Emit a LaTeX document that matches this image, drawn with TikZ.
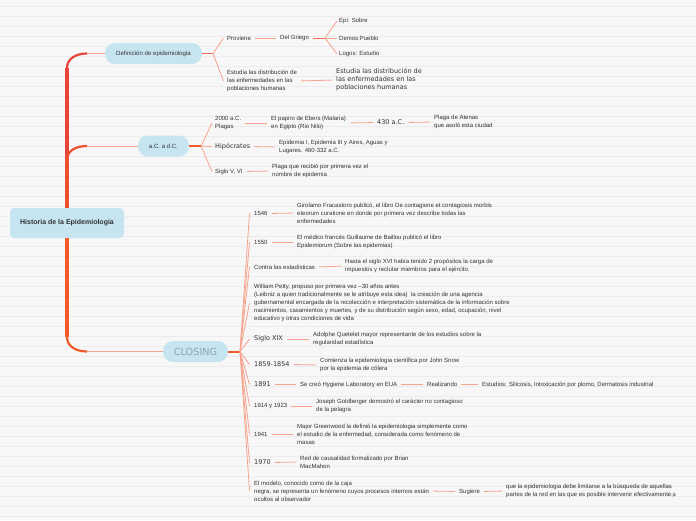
\documentclass[tikz,border=0pt]{standalone}
\usepackage{fontspec}
\setmainfont{Liberation Sans}
\newfontfamily\bigfont{DejaVu Sans}
\usetikzlibrary{positioning}

\definecolor{bgpaper}{HTML}{F7F7F7}
\definecolor{paperline}{HTML}{ECECEC}
\definecolor{topicblue}{HTML}{C6E5F1}
\definecolor{trunkred}{HTML}{E9443A}
\definecolor{trunkmid}{HTML}{EC5232}
\definecolor{trunkorange}{HTML}{F05A28}
\definecolor{stemred}{HTML}{EF6A5A}
\definecolor{twig}{HTML}{F6A48E}
\definecolor{inkgray}{HTML}{333333}
\definecolor{closegray}{HTML}{8FA3AD}

\begin{document}
\begin{tikzpicture}[
  x=1pt, y=-1pt,
  root/.style={rectangle, fill=topicblue, rounded corners=4pt, minimum width=114pt,
               minimum height=30pt, font=\fontsize{7}{8}\selectfont\bfseries, text=inkgray},
  topic/.style={rectangle, fill=topicblue, rounded corners=10pt, minimum height=21pt,
                inner sep=0pt, font=\fontsize{6.1}{7}\selectfont, text=inkgray},
  leaf/.style={anchor=west, inner sep=0pt, align=left, font=\fontsize{6}{8}\selectfont, text=inkgray},
  bigleaf/.style={leaf, font=\bigfont\fontsize{6.5}{8}\selectfont},
  limb/.style={line width=4.5pt},
  curlimb/.style={line width=2.2pt},
  stem/.style={draw=stemred, line width=1pt},
  twigline/.style={draw=twig, line width=0.8pt, shorten <=4pt, shorten >=4pt},
  fanline/.style={draw=twig, line width=0.8pt}
]
\useasboundingbox (0,0) rectangle (696,520);
\fill[bgpaper] (0,0) rectangle (696,520);
\foreach \y in {6.5,16.5,...,516.5}
  \draw[paperline, line width=0.5pt] (0,\y) -- (696,\y);

% central topic and main branches
\node[root] (hist) at (67,223) {Historia de la Epidemiologia};
\node[topic, minimum width=97pt] (defi) at (153.5,53.5) {Definición de epidemiologia};
\node[topic, minimum width=51pt] (acdc) at (163.5,146) {a.C. a d.C.};
\node[topic, minimum width=65pt, font=\bigfont\fontsize{9.7}{10}\selectfont, text=closegray] (closing) at (195.5,351.5) {CLOSING};

\coordinate (defbend) at (67,68);
\coordinate (defknee) at (87,53.5);
\coordinate (acbend) at (67,160);
\coordinate (acknee) at (87,146);
\coordinate (clbend) at (67,337);
\coordinate (clknee) at (87,351.5);

\draw[limb, trunkred] (hist.north) -- (defbend);
\draw[curlimb, trunkred] (defbend) .. controls +(0,-10) and +(-10,0) .. (defknee);
\draw[fanline] (defknee) -- (defi.west);
\draw[limb, trunkmid] (hist.north) -- (acbend);
\draw[curlimb, trunkmid] (acbend) .. controls +(0,-10) and +(-10,0) .. (acknee);
\draw[fanline] (acknee) -- (acdc.west);
\draw[limb, trunkorange] (hist.south) -- (clbend);
\draw[curlimb, trunkorange] (clbend) .. controls +(0,10) and +(-10,0) .. (clknee);
\draw[fanline] (clknee) -- (closing.west);

% definicion
\coordinate (defjoin) at (213,53.5);
\node[leaf] (proviene) at (227,38) {Proviene};
\node[leaf] (griego) at (280,38) {Del Griego};
\coordinate (grjoin) at (325,38);
\node[leaf] (epi) at (339,21) {Epi: Sobre};
\node[leaf] (demos) at (339,38) {Demos:Pueblo};
\node[leaf] (logos) at (339,54) {Logos: Estudio};
\node[leaf] (estudia) at (227,81) {Estudia las distribución de\\las enfermedades en las\\poblaciones humanas};
\node[bigleaf] (estudiabig) at (336,80) {Estudia las distribución de\\las enfermedades en las\\poblaciones humanas};

\draw[stem] (defi.east) -- (defjoin);
\draw[fanline] (defjoin) -- ([xshift=-3.5pt]proviene.west);
\draw[fanline] (defjoin) -- ([xshift=-3.5pt]estudia.west);
\draw[twigline] (proviene.east) -- (griego.west);
\draw[stem, shorten <=4pt] (griego.east) -- (grjoin);
\draw[fanline] (grjoin) -- ([xshift=-2pt]epi.west);
\draw[fanline] (grjoin) -- ([xshift=-2pt]demos.west);
\draw[fanline] (grjoin) -- ([xshift=-2pt]logos.west);
\draw[twigline] (estudia.east) -- (estudiabig.west);

% a.C. a d.C.
\coordinate (acjoin) at (201,146);
\node[leaf] (plagas) at (215,123) {2000 a.C.\\Plagas};
\node[leaf] (papiro) at (271,123) {El papiro de Ebers (Malaria)\\en Egipto (Rio Nilo)};
\node[bigleaf] (anio430) at (377,122.5) {430 a.C.};
\node[leaf] (atenas) at (434,122) {Plaga de Atenas\\que asoló esta ciudad};
\node[bigleaf] (hipo) at (215,146.5) {Hipócrates};
\node[leaf] (epidemias) at (279,147) {Epidemia I, Epidemia III y Aires, Aguas y\\Lugares. 460-332 a.C.};
\node[leaf] (siglovi) at (215,171.5) {Siglo V, VI};
\node[leaf] (nombre) at (272,171) {Plaga que recibió por primera vez el\\nombre de epidemia};

\draw[stem, draw=trunkorange, line width=1.2pt] (acdc.east) -- (acjoin);
\draw[fanline] (acjoin) -- ([xshift=-3pt]plagas.west);
\draw[fanline] (acjoin) -- ([xshift=-3pt]hipo.west);
\draw[fanline] (acjoin) -- ([xshift=-3pt]siglovi.west);
\draw[twigline] (plagas.east) -- (papiro.west);
\draw[twigline] (papiro.east) -- (anio430.west);
\draw[twigline] (anio430.east) -- (atenas.west);
\draw[twigline] (hipo.east) -- (epidemias.west);
\draw[twigline] (siglovi.east) -- (nombre.west);

% closing
\coordinate (cljoin) at (240,351.5);
\node[leaf] (y1546) at (254,213.5) {1546};
\node[leaf] (fracastoro) at (297,213) {Girolamo Fracastoro publicó, el libro De contagione et contagiosis morbis\\eteorum curatione en donde por primera vez describe todas las\\enfermedades};
\node[leaf] (y1550) at (254,242) {1550};
\node[leaf] (baillou) at (297,242) {El médico francés Guillaume de Baillou publicó el libro\\Epidemiorum (Sobre las epidemias)};
\node[leaf] (contra) at (254,267) {Contra las estadísticas};
\node[leaf] (propositos) at (345,266) {Hasta el siglo XVI había tenido 2 propósitos la carga de\\impuestos y reclutar miembros para el ejército.};
\node[leaf] (petty) at (254,303) {William Petty, propuso por primera vez –30 años antes\\(Leibniz a quien tradicionalmente se le atribuye esta idea)\ \ la creación de una agencia\\gubernamental encargada de la recolección e interpretación sistemática de la información sobre\\nacimientos, casamientos y muertes, y de su distribución según sexo, edad, ocupación, nivel\\educativo y otras condiciones de vida};
\node[bigleaf] (sxix) at (254,339) {Siglo XIX};
\node[leaf] (quetelet) at (313,339) {Adolphe Quetelet mayor representante de los estudios sobre la\\regularidad estadística};
\node[bigleaf] (snowyears) at (254,364.5) {1859-1854};
\node[leaf] (snow) at (320,365) {Comienza la epidemiologia científica por John Snow\\por la epidemia de cólera};
\node[bigleaf] (y1891) at (254,384.5) {1891};
\node[leaf] (hygiene) at (300,384.5) {Se creó Hygiene Laboratory en EUA};
\node[leaf] (realizando) at (427,384.5) {Realizando};
\node[leaf] (estudios) at (482,384.5) {Estudios: Silicosis, Intoxicación por plomo, Dermatosis industrial};
\node[leaf] (y1914) at (254,406) {1914 y 1923};
\node[leaf] (goldberger) at (316,406) {Joseph Goldberger demostró el carácter no contagioso\\de la pelagra};
\node[leaf] (y1941) at (254,434) {1941};
\node[leaf] (greenwood) at (297,434) {Major Greenwood la definió la epidemiologia simplemente como\\el estudio de la enfermedad, considerada como fenómeno de\\masas};
\node[bigleaf] (y1970) at (254,462.5) {1970};
\node[leaf] (macmahon) at (300,462) {Red de causalidad formalizado por Brian\\MacMahon};
\node[leaf] (modelo) at (254,491) {El modelo, conocido como de la caja\\negra, se representa un fenómeno cuyos procesos internos están\\ocultos al observador};
\node[leaf] (sugiere) at (459,491.5) {Sugiere};
\node[leaf] (limitarse) at (506,491) {que la epidemiologia debe limitarse a la búsqueda de aquellas\\partes de la red en las que es posible intervenir efectivamente,s};

\draw[stem, draw=trunkorange, line width=2pt] (closing.east) -- (cljoin);
\foreach \kid in {y1546,y1550,contra,petty,sxix,snowyears,y1891,y1914,y1941,y1970,modelo}
  \draw[fanline] (cljoin) -- ([xshift=-4.5pt]\kid.west);
\draw[twigline] (y1546.east) -- (fracastoro.west);
\draw[twigline] (y1550.east) -- (baillou.west);
\draw[twigline] (contra.east) -- (propositos.west);
\draw[twigline] (sxix.east) -- (quetelet.west);
\draw[twigline] (snowyears.east) -- (snow.west);
\draw[twigline] (y1891.east) -- (hygiene.west);
\draw[twigline] (hygiene.east) -- (realizando.west);
\draw[twigline] (realizando.east) -- (estudios.west);
\draw[twigline] (y1914.east) -- (goldberger.west);
\draw[twigline] (y1941.east) -- (greenwood.west);
\draw[twigline] (y1970.east) -- (macmahon.west);
\draw[twigline] (modelo.east) -- (sugiere.west);
\draw[twigline] (sugiere.east) -- (limitarse.west);
\end{tikzpicture}
\end{document}
